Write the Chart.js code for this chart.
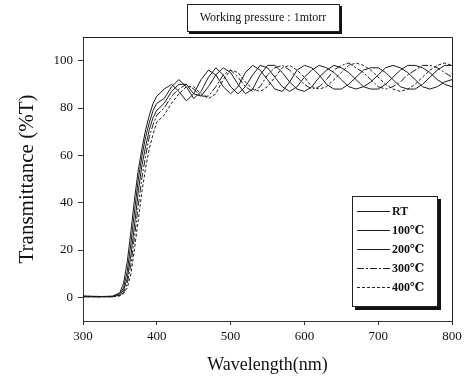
<!DOCTYPE html>
<html>
<head>
<meta charset="utf-8">
<script src="https://cdn.jsdelivr.net/npm/chart.js@4"></script>
<style>
    html, body { margin: 0; padding: 0; background: #fff; }
    #wrap { width: 470px; height: 382px; position: relative; }
</style>
</head>
<body>
<div id="wrap"><canvas id="chart"></canvas></div>
<script>
const wavelengths = [300, 320, 340, 350, 355, 360, 365, 370, 375, 380, 385, 390, 395, 400,
    410, 420, 430, 440, 450, 460, 470, 480, 490, 500, 510, 520, 530, 540, 550, 560,
    570, 580, 590, 600, 610, 620, 630, 640, 650, 660, 670, 680, 690, 700, 710, 720,
    730, 740, 750, 760, 770, 780, 790, 800];

const seriesLabels = ['RT', '100\u2103', '200\u2103', '300\u2103', '400\u2103'];

const tRT = [0.5, 0.3, 0.5, 2, 6, 15, 28, 42, 54, 63, 71, 77, 82, 85,
    88, 90, 87, 83, 86, 92, 96, 94, 89, 86, 89, 95, 98, 96, 92, 88,
    87, 91, 96, 98, 97, 94, 90, 88, 88, 90, 93, 96, 97, 97, 95, 92,
    89, 88, 88, 90, 93, 96, 98, 98];
const t100 = [0.3, 0.2, 0.3, 1.5, 4, 11, 23, 37, 50, 60, 68, 74, 79, 82,
    84, 89, 92, 89, 84, 87, 93, 97, 94, 89, 86, 89, 94, 98, 97, 93,
    89, 87, 89, 93, 96, 98, 97, 95, 92, 89, 88, 89, 91, 94, 97, 98,
    97, 95, 92, 89, 88, 89, 91, 92];
const t200 = [0.5, 0.4, 0.2, 1, 3, 8, 18, 31, 45, 56, 64, 71, 76, 79,
    82, 87, 90, 90, 86, 85, 89, 94, 97, 95, 90, 86, 88, 94, 98, 98,
    95, 91, 88, 87, 89, 93, 96, 98, 97, 95, 92, 89, 88, 88, 90, 93,
    96, 98, 98, 97, 95, 92, 90, 89];
const t300 = [0.2, 0.3, 0.4, 0.8, 2, 6, 14, 26, 39, 51, 60, 68, 73, 77,
    80, 85, 88, 90, 88, 85, 85, 89, 94, 96, 93, 89, 87, 89, 94, 97,
    98, 96, 93, 90, 88, 89, 92, 96, 98, 99, 97, 95, 92, 89, 88, 89,
    91, 94, 96, 98, 98, 97, 95, 93];
const t400 = [0.4, 0.2, 0.3, 0.6, 1.5, 4, 10, 21, 33, 45, 55, 63, 69, 74,
    77, 82, 86, 89, 89, 86, 84, 86, 92, 96, 95, 91, 88, 87, 89, 93,
    97, 98, 96, 93, 89, 88, 89, 92, 95, 98, 99, 98, 96, 93, 90, 88,
    87, 88, 90, 93, 96, 98, 99, 98];

const xTicks = [300, 400, 500, 600, 700, 800];
const yTicks = [0, 20, 40, 60, 80, 100];

const seriesValues = [tRT, t100, t200, t300, t400];
const dashes = [[], [], [], [7, 2, 2, 2], [3, 2]];

const SERIF = '"Liberation Serif", "DejaVu Serif", serif';

// frame, title box and legend box drawn on top of the chart
const decorPlugin = {
    id: 'decor',
    afterDraw(chart) {
        const ctx = chart.ctx;
        const a = chart.chartArea;
        ctx.save();
        ctx.strokeStyle = '#222';
        ctx.lineWidth = 1;
        ctx.beginPath();
        ctx.moveTo(a.left, a.top + 0.5);
        ctx.lineTo(a.right + 0.5, a.top + 0.5);
        ctx.lineTo(a.right + 0.5, a.bottom);
        ctx.stroke();

        // title box
        ctx.fillStyle = '#111';
        ctx.fillRect(189, 6, 153, 28);
        ctx.fillStyle = '#fff';
        ctx.fillRect(187, 4, 152, 27);
        ctx.strokeRect(187.5, 4.5, 152, 27);
        ctx.fillStyle = '#111';
        ctx.font = '12px ' + SERIF;
        ctx.textAlign = 'center';
        ctx.textBaseline = 'middle';
        ctx.fillText('Working pressure : 1mtorr', 263, 18);

        // legend
        const lx = 352, ly = 196, lw = 85, lh = 110;
        ctx.fillStyle = '#111';
        ctx.fillRect(lx + 3, ly + 3, lw + 1, lh + 1);
        ctx.fillStyle = '#fff';
        ctx.fillRect(lx, ly, lw, lh);
        ctx.strokeRect(lx + 0.5, ly + 0.5, lw, lh);
        ctx.font = 'bold 12px ' + SERIF;
        ctx.textAlign = 'left';
        seriesLabels.forEach((lab, i) => {
            const y = 211 + i * 19;
            ctx.setLineDash(dashes[i]);
            ctx.beginPath();
            ctx.moveTo(357, y + 0.5);
            ctx.lineTo(390, y + 0.5);
            ctx.stroke();
            ctx.setLineDash([]);
            ctx.fillStyle = '#111';
            ctx.fillText(lab, 392, y + 1);
        });
        ctx.restore();
    }
};

new Chart(document.getElementById('chart'), {
    type: 'line',
    data: {
        datasets: seriesLabels.map((lab, i) => ({
            label: lab,
            data: wavelengths.map((w, j) => ({ x: w, y: seriesValues[i][j] })),
            borderColor: '#1a1a1a',
            borderWidth: 1,
            borderDash: dashes[i],
            pointRadius: 0,
            tension: 0,
            fill: false
        }))
    },
    options: {
        responsive: true,
        maintainAspectRatio: false,
        animation: false,
        layout: { padding: { left: 0, top: 37, right: 18, bottom: 3 } },
        plugins: {
            legend: { display: false },
            tooltip: { enabled: false }
        },
        scales: {
            x: {
                type: 'linear',
                min: 300,
                max: 800,
                afterFit: s => { s.height = 58; },
                afterBuildTicks: s => { s.ticks = xTicks.map(v => ({ value: v })); },
                border: { display: true, color: '#333', width: 1 },
                grid: { drawOnChartArea: false, tickLength: 4, color: '#333' },
                ticks: { color: '#111', padding: 4, font: { family: SERIF, size: 13 } },
                title: {
                    display: true,
                    text: 'Wavelength(nm)',
                    color: '#111',
                    padding: { top: 3, bottom: 3 },
                    font: { family: SERIF, size: 18 }
                }
            },
            y: {
                min: -10,
                max: 110,
                afterFit: s => { s.width = 83; },
                afterBuildTicks: s => { s.ticks = yTicks.map(v => ({ value: v })); },
                border: { display: true, color: '#333', width: 1 },
                grid: { drawOnChartArea: false, tickLength: 5, color: '#333' },
                ticks: { color: '#111', padding: 5, font: { family: SERIF, size: 13 } },
                title: {
                    display: true,
                    text: 'Transmittance (%T)',
                    color: '#111',
                    padding: { top: 15, bottom: 0 },
                    font: { family: SERIF, size: 21 }
                }
            }
        }
    },
    plugins: [decorPlugin]
});
</script>
</body>
</html>
